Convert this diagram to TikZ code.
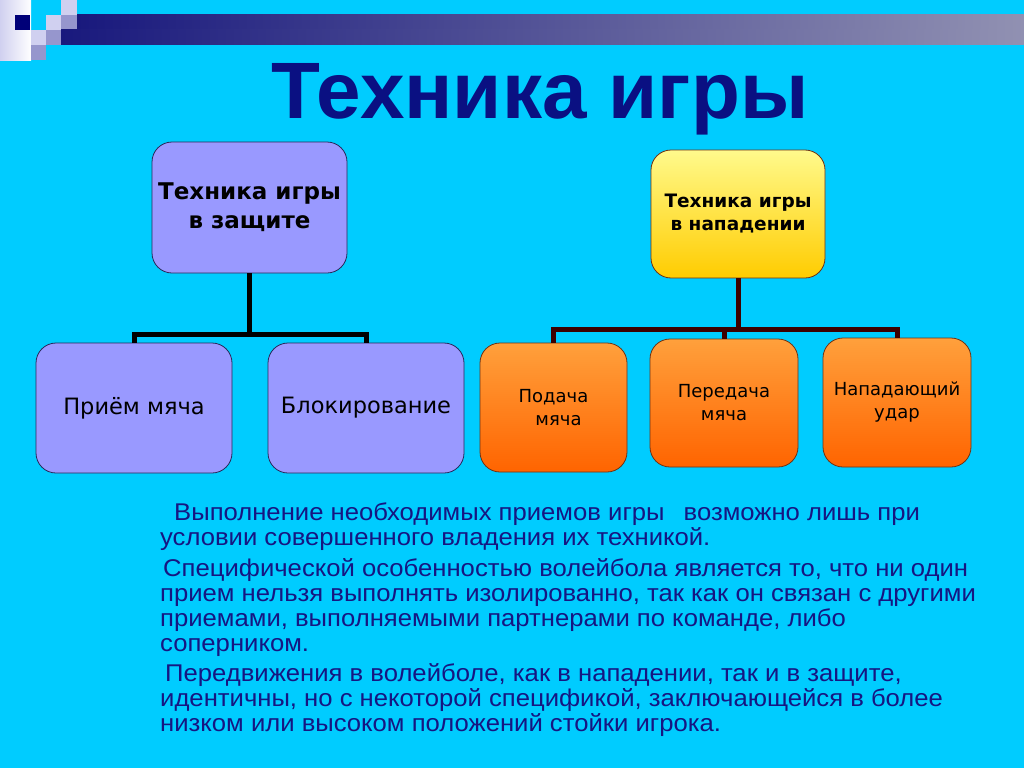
\documentclass[tikz,border=0pt]{standalone}
\usepackage{fontspec}
\usepackage{tikz}
\setmainfont{Liberation Sans}
\newfontfamily\boxfont{DejaVu Sans}
\newfontfamily\bodyfont[FakeStretch=1.06]{Liberation Sans}
\definecolor{slidebg}{RGB}{0,204,255}
\definecolor{titleblue}{RGB}{10,16,130}
\definecolor{bodyblue}{RGB}{22,22,130}
\definecolor{lavender}{RGB}{153,153,255}
\definecolor{boxedge}{RGB}{40,40,90}
\definecolor{pixlight}{RGB}{208,208,240}
\definecolor{pixmid}{RGB}{150,150,205}
\definecolor{pixnavy}{RGB}{0,0,120}
\definecolor{barleft}{RGB}{25,25,125}
\definecolor{barright}{RGB}{145,145,178}
\definecolor{yellowtop}{RGB}{255,250,140}
\definecolor{yellowbot}{RGB}{255,204,0}
\definecolor{orangetop}{RGB}{255,160,60}
\definecolor{orangebot}{RGB}{255,100,0}
\definecolor{attedge}{RGB}{110,50,20}
\definecolor{attlink}{RGB}{60,0,0}

\begin{document}
\begin{tikzpicture}[x=1pt, y=-1pt]
			\tikzstyle{every node}=[inner sep=0pt]
			\tikzstyle{defbox}=[draw=boxedge, line width=0.8pt, fill=lavender, rounded corners=20pt, align=center, text=black]
			\tikzstyle{attbox}=[draw=attedge, line width=0.8pt, rounded corners=20pt, align=center, text=black]
			\tikzstyle{defline}=[line width=5pt, black]
			\tikzstyle{attline}=[line width=5pt, attlink]
			\tikzstyle{bodytext}=[anchor=north west, align=left, text=bodyblue, font=\bodyfont\fontsize{24.2}{25}\selectfont]
			\useasboundingbox (0, 0) rectangle (1024, 768);
			\fill[slidebg] (0, 0) rectangle (1024, 768);
			\shade[left color=pixlight, right color=white] (0, 0) rectangle (31, 60);
			\fill[pixnavy] (15, 15) rectangle (30, 30);
			\fill[pixlight] (61, 0) rectangle (77, 15);
			\fill[pixlight] (46, 15) rectangle (61, 30);
			\fill[pixlight] (31, 30) rectangle (46, 45);
			\fill[pixmid] (61, 15) rectangle (77, 30);
			\fill[pixmid] (46, 30) rectangle (61, 45);
			\fill[pixmid] (31, 45) rectangle (46, 60);
			\shade[left color=barleft, right color=barright] (77, 15) rectangle (1024, 30);
			\shade[left color=barleft, right color=barright] (61, 30) rectangle (1024, 45);
			\node[anchor=base, text=titleblue, font=\bfseries\fontsize{80}{90}\selectfont] (title) at (540, 118) {Техника игры};

			\node[defbox, minimum width=195pt, minimum height=131pt, font=\boxfont\bfseries\fontsize{23}{29}\selectfont] (defense) at (249.5, 207.5) {Техника игры\\в защите};
			\node[defbox, minimum width=196pt, minimum height=130pt, font=\boxfont\fontsize{22.5}{26}\selectfont] (receive) at (134, 408) {Приём мяча};
			\node[defbox, minimum width=196pt, minimum height=130pt, font=\boxfont\fontsize{22.5}{26}\selectfont] (block) at (366, 408) {Блокирование};
			\draw[defline] (defense.south) -- ++(0, 61) coordinate (defjoint);
			\draw[defline] (defjoint) -| (receive.north);
			\draw[defline] (defjoint) -| (block.north);

			\node[attbox, top color=yellowtop, bottom color=yellowbot, minimum width=174pt, minimum height=128pt, font=\boxfont\bfseries\fontsize{18.5}{23}\selectfont] (attack) at (738, 214) {Техника игры\\в нападении};
			\node[attbox, top color=orangetop, bottom color=orangebot, minimum width=147pt, minimum height=129pt, font=\boxfont\fontsize{18}{23}\selectfont] (serve) at (553.5, 407.5) {Подача\\\hspace*{10pt}мяча};
			\node[attbox, top color=orangetop, bottom color=orangebot, minimum width=148pt, minimum height=128pt, font=\boxfont\fontsize{18}{23}\selectfont] (pass) at (724, 403) {Передача\\мяча};
			\node[attbox, top color=orangetop, bottom color=orangebot, minimum width=148pt, minimum height=129pt, font=\boxfont\fontsize{18}{23}\selectfont] (spike) at (897, 402.5) {Нападающий\\удар};
			\draw[attline] (attack.south) -- ++(0, 51) coordinate (attjoint);
			\draw[attline] (attjoint) -| (serve.north);
			\draw[attline] (attjoint) -| (pass.north);
			\draw[attline] (attjoint) -| (spike.north);

			\node[bodytext] (para1) at (160, 503) {\hspace*{14pt}Выполнение необходимых приемов игры\hspace{12pt} возможно лишь при\\условии совершенного владения их техникой.};
			\node[bodytext] (para2) at (160, 558) {\hspace*{3pt}Специфической особенностью волейбола является то, что ни один\\прием нельзя выполнять изолированно, так как он связан с другими\\приемами, выполняемыми партнерами по команде, либо\\соперником.};
			\node[bodytext] (para3) at (160, 663) {\hspace*{5pt}Передвижения в волейболе, как в нападении, так и в защите,\\идентичны, но с некоторой спецификой, заключающейся в более\\низком или высоком положений стойки игрока.};
		\end{tikzpicture}
\end{document}
